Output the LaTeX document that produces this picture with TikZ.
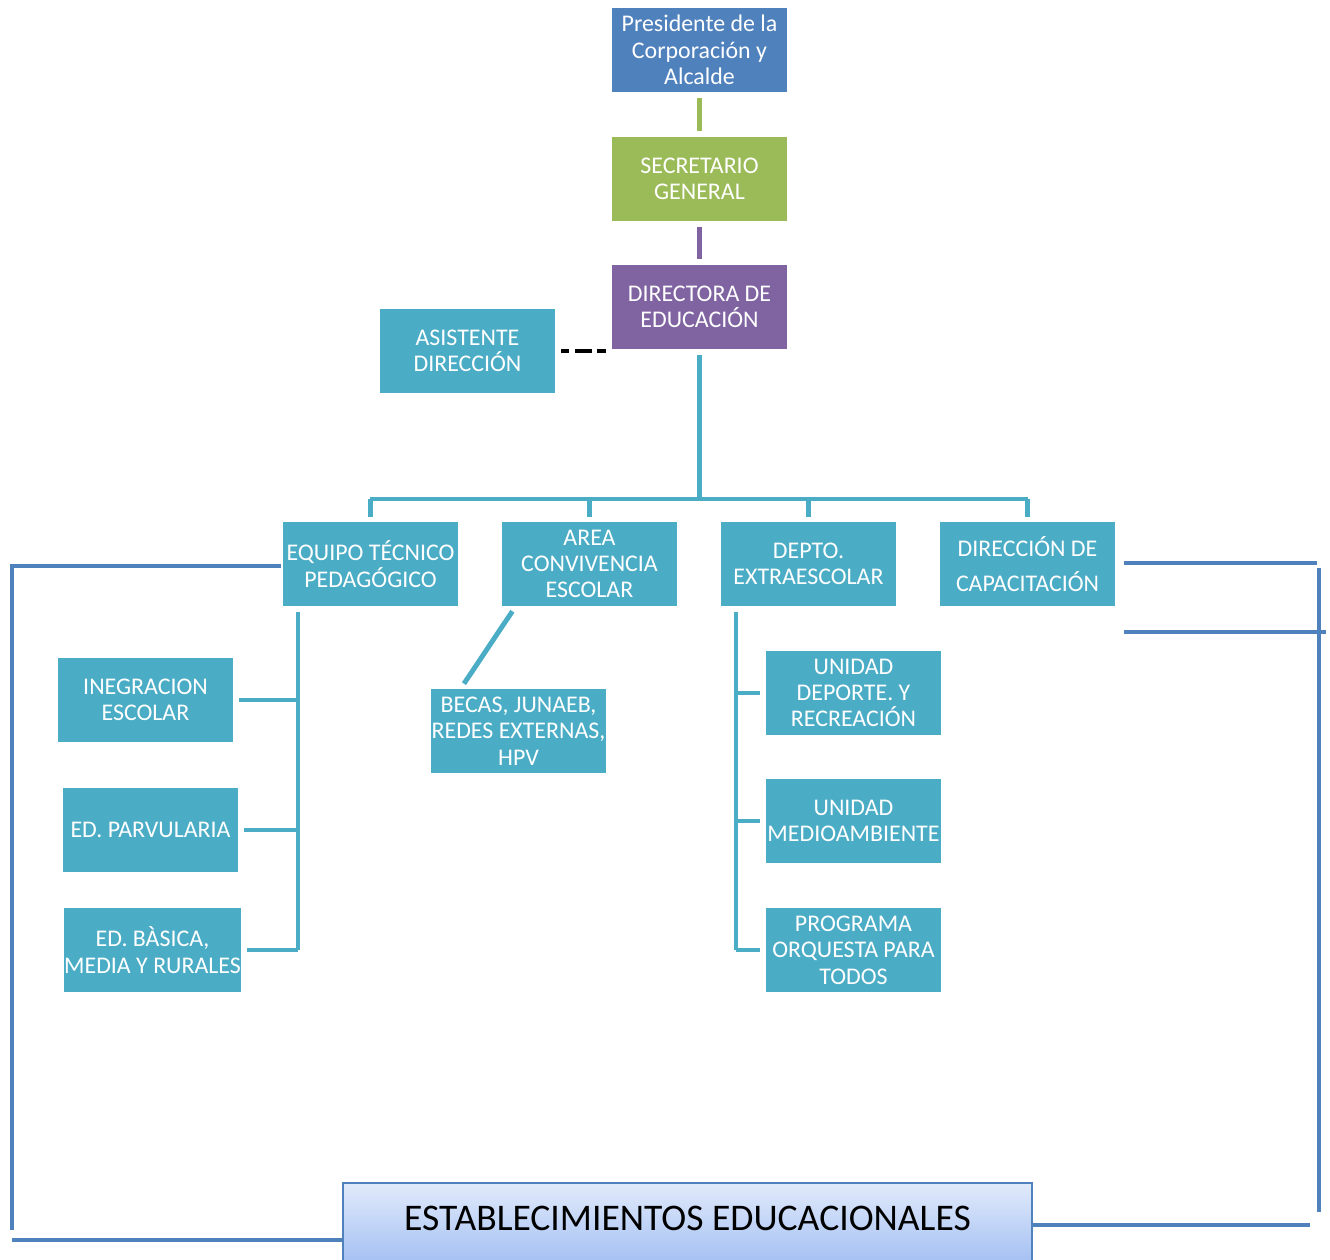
\documentclass[tikz,border=0pt]{standalone}
\usepackage{fontspec}
\setmainfont{Carlito}
\usetikzlibrary{calc}
\definecolor{orgblue}{HTML}{4F81BD}
\definecolor{orggreen}{HTML}{9BBB59}
\definecolor{orgpurple}{HTML}{8064A2}
\definecolor{orgteal}{HTML}{4BACC6}
\definecolor{estabtop}{HTML}{E1EAFB}
\definecolor{estabbot}{HTML}{A4C0F3}
\begin{document}
\begin{tikzpicture}
		[x=0.02cm, y=-0.02cm,
		mynode/.style={
			rectangle,
			fill=orgteal,
			text=white,
			minimum width=3.5cm,
			minimum height=1.68cm,
			inner sep=0pt,
			align=center,
			font=\fontsize{13.6}{15}\selectfont
		},
		estab/.style={rectangle,draw=orgblue,line width=1pt,top color=estabtop,bottom color=estabbot,minimum width=13.78cm,minimum height=1.6cm,inner sep=0pt,text depth=0.2cm,font=\fontsize{21.4}{24}\selectfont},
		tline/.style={draw=orgteal,line width=2.8pt},
		bline/.style={draw=orgblue,line width=2.8pt},
		gap/.style={shorten <=3.4pt},
		gapend/.style={shorten >=3.4pt}]
		\useasboundingbox (0,0) rectangle (1330,1260);
		% cabeza
		\node[mynode,fill=orgblue] (pres) at (699.5,50) {Presidente de la\\Corporación y\\Alcalde};
		\node[mynode,fill=orggreen] (secr) at (699.5,179) {SECRETARIO\\GENERAL};
		\node[mynode,fill=orgpurple] (dir) at (699.5,307) {DIRECTORA DE\\EDUCACIÓN};
		\node[mynode] (asis) at (467.5,351) {ASISTENTE\\DIRECCIÓN};
		\draw[draw=orggreen,line width=2.8pt,gap,gapend] (pres) -- (secr);
		\draw[draw=orgpurple,line width=2.8pt,gap,gapend] (secr) -- (dir);
		\draw[line width=2.8pt,gap,gapend,dash pattern=on 4.5pt off 3.4pt on 9.6pt off 2.8pt on 5.7pt] (asis.east) -- (asis.east -| dir.west);
		% areas
		\node[mynode] (equipo) at (370.5,564) {EQUIPO TÉCNICO\\PEDAGÓGICO};
		\node[mynode] (area) at (589.5,564) {AREA\\CONVIVENCIA\\ESCOLAR};
		\node[mynode] (depto) at (808.5,564) {DEPTO.\\EXTRAESCOLAR};
		\node[mynode] (capac) at (1027.5,564) {DIRECCIÓN DE\\[5pt]CAPACITACIÓN};
		\coordinate (busL) at (370,499);
		\coordinate (busR) at (1028,499);
		\draw[tline,gap] (dir.south) -- (dir.south |- busL);
		\draw[tline] (busL) -- (busR);
		\foreach \n in {equipo,area,depto,capac}
			\draw[tline,shorten >=2.8pt] (\n.north |- busL) -- (\n.north);
		% equipo tecnico
		\node[mynode] (integ) at (145.5,700) {INEGRACION\\ESCOLAR};
		\node[mynode] (parv) at (150.5,830) {ED. PARVULARIA};
		\node[mynode] (bas) at (152.5,950) {ED. BÀSICA,\\MEDIA Y RURALES};
		\coordinate (eqtrunk) at (298,606);
		\draw[tline,gap] (eqtrunk) -- (eqtrunk |- bas.east);
		\foreach \n in {integ,parv,bas}
			\draw[tline,gapend] (eqtrunk |- \n.east) -- (\n.east);
		% convivencia
		\node[mynode] (becas) at (518.5,731) {BECAS, JUNAEB,\\REDES EXTERNAS,\\HPV};
		\draw[tline,gap,gapend] ($(area.south west)+(14,0)$) -- ($(becas.north west)+(30,0)$);
		% extraescolar
		\node[mynode] (deporte) at (853.5,693) {UNIDAD\\DEPORTE. Y\\RECREACIÓN};
		\node[mynode] (medio) at (853.5,821) {UNIDAD\\MEDIOAMBIENTE};
		\node[mynode] (orq) at (853.5,950) {PROGRAMA\\ORQUESTA PARA\\TODOS};
		\coordinate (dtrunk) at (736,606);
		\draw[tline,gap] (dtrunk) -- (dtrunk |- orq.west);
		\foreach \n in {deporte,medio,orq}
			\draw[tline,gapend] (dtrunk |- \n.west) -- (\n.west);
		% establecimientos
		\node[estab] (est) at (687.5,1223) {ESTABLECIMIENTOS EDUCACIONALES};
		\coordinate (lt) at (12,566);
		\coordinate (lb) at (12,1240);
		\draw[bline] (equipo.west |- lt) ++(-2,0) -- (lt) -- (12,1230);
		\draw[bline] (lb) -- (lb -| est.west);
		\coordinate (rt) at (1319,563);
		\coordinate (rm) at (1326,632);
		\coordinate (rb) at (1310,1225);
		\draw[bline] ($(capac.east |- rt)+(9,0)$) -- ($(rt)+(-2,0)$);
		\draw[bline] (1319,568) -- (1319,1212);
		\draw[bline] ($(capac.east |- rm)+(9,0)$) -- (rm);
		\draw[bline] (est.east |- rb) -- (rb);
	\end{tikzpicture}
\end{document}
